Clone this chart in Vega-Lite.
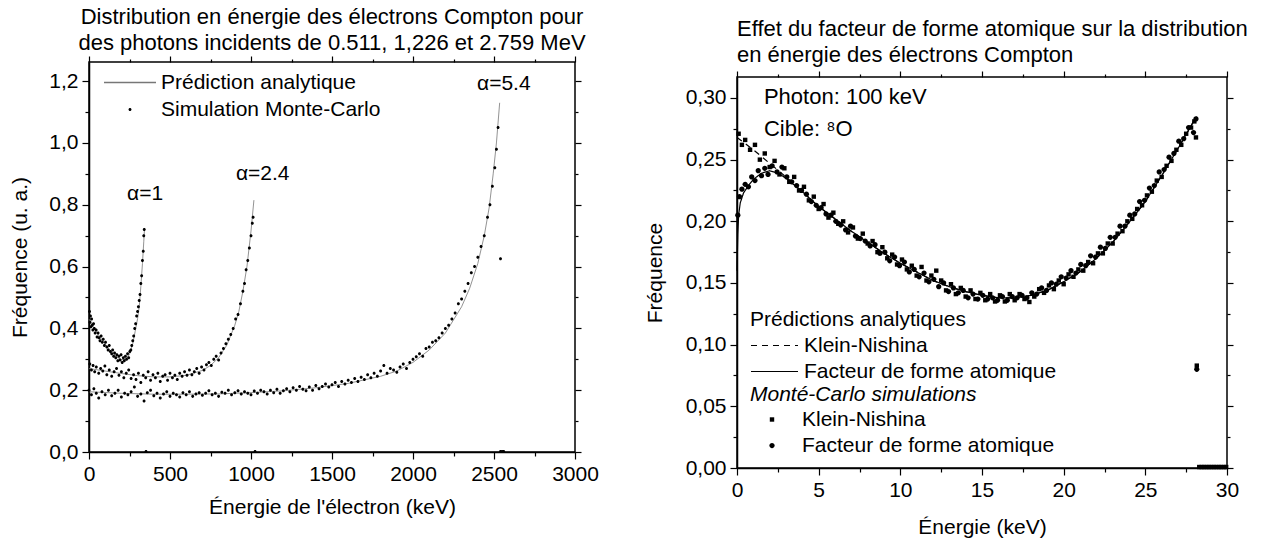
{
"$schema": "https://vega.github.io/schema/vega-lite/v6.json",
"background": "white",
"padding": {"left": 9, "top": 4, "right": 0, "bottom": 0},
"spacing": 43,
"resolve": {"scale": {"shape": "independent", "color": "independent", "strokeDash": "independent"}, "legend": {"shape": "independent", "color": "independent", "strokeDash": "independent"}},
"config": {
  "font": "Liberation Sans",
  "view": {"stroke": "black", "strokeWidth": 1.5},
  "axis": {"labelFont": "Liberation Sans", "labelFontSize": 21, "labelColor": "black", "titleFont": "Liberation Sans", "titleFontSize": 21, "titleFontWeight": "normal", "titleColor": "black", "domainColor": "black", "domainWidth": 1.5, "tickColor": "black", "tickWidth": 1.2, "grid": false, "labelFlush": false, "labelOverlap": false, "labelPadding": 4},
  "legend": {"labelFont": "Liberation Sans", "labelFontSize": 21, "labelColor": "black", "titleFont": "Liberation Sans", "titleFontSize": 21, "titleFontWeight": "normal", "titleColor": "black", "padding": 0, "labelLimit": 500, "titleLimit": 500},
  "title": {"font": "Liberation Sans", "fontSize": 22, "fontWeight": "normal", "color": "black", "lineHeight": 26}
},
"datasets": {
  "spacer": [{"t": ""}],
  "left_lines": [
    {"a":"1","e":0,"f":0.43},{"a":"1","e":25,"f":0.405},{"a":"1","e":50,"f":0.385},{"a":"1","e":75,"f":0.366},{"a":"1","e":100,"f":0.349},{"a":"1","e":125,"f":0.333},{"a":"1","e":150,"f":0.318},{"a":"1","e":175,"f":0.306},{"a":"1","e":200,"f":0.299},{"a":"1","e":225,"f":0.299},{"a":"1","e":250,"f":0.316},{"a":"1","e":270,"f":0.35},{"a":"1","e":285,"f":0.39},{"a":"1","e":300,"f":0.432},{"a":"1","e":310,"f":0.47},{"a":"1","e":320,"f":0.535},{"a":"1","e":330,"f":0.61},{"a":"1","e":338,"f":0.68},{"a":"1","e":343,"f":0.725},
    {"a":"2.4","e":0,"f":0.27},{"a":"2.4","e":100,"f":0.262},{"a":"2.4","e":200,"f":0.254},{"a":"2.4","e":300,"f":0.247},{"a":"2.4","e":400,"f":0.243},{"a":"2.4","e":500,"f":0.243},{"a":"2.4","e":600,"f":0.248},{"a":"2.4","e":700,"f":0.264},{"a":"2.4","e":750,"f":0.28},{"a":"2.4","e":800,"f":0.305},{"a":"2.4","e":850,"f":0.345},{"a":"2.4","e":900,"f":0.41},{"a":"2.4","e":925,"f":0.455},{"a":"2.4","e":950,"f":0.52},{"a":"2.4","e":975,"f":0.6},{"a":"2.4","e":1000,"f":0.715},{"a":"2.4","e":1018,"f":0.815},
    {"a":"5.4","e":0,"f":0.195},{"a":"5.4","e":200,"f":0.19},{"a":"5.4","e":400,"f":0.187},{"a":"5.4","e":600,"f":0.187},{"a":"5.4","e":800,"f":0.188},{"a":"5.4","e":1000,"f":0.192},{"a":"5.4","e":1200,"f":0.198},{"a":"5.4","e":1400,"f":0.208},{"a":"5.4","e":1600,"f":0.222},{"a":"5.4","e":1800,"f":0.245},{"a":"5.4","e":1900,"f":0.262},{"a":"5.4","e":2000,"f":0.29},{"a":"5.4","e":2100,"f":0.33},{"a":"5.4","e":2200,"f":0.385},{"a":"5.4","e":2300,"f":0.47},{"a":"5.4","e":2350,"f":0.53},{"a":"5.4","e":2400,"f":0.61},{"a":"5.4","e":2440,"f":0.7},{"a":"5.4","e":2470,"f":0.79},{"a":"5.4","e":2495,"f":0.9},{"a":"5.4","e":2515,"f":1.0},{"a":"5.4","e":2535,"f":1.13}
  ],
  "left_pts": [
    {"e":3,"f":0.455},{"e":6,"f":0.42},{"e":9,"f":0.44},{"e":12,"f":0.405},{"e":16,"f":0.43},{"e":20,"f":0.41},{"e":24,"f":0.395},{"e":28,"f":0.415},{"e":33,"f":0.4},{"e":38,"f":0.385},{"e":44,"f":0.395},{"e":50,"f":0.372},{"e":56,"f":0.385},{"e":62,"f":0.37},{"e":68,"f":0.36},{"e":75,"f":0.375},{"e":82,"f":0.355},{"e":88,"f":0.365},{"e":95,"f":0.345},{"e":102,"f":0.355},{"e":110,"f":0.34},{"e":118,"f":0.33},{"e":125,"f":0.345},{"e":132,"f":0.325},{"e":140,"f":0.318},{"e":146,"f":0.33},{"e":152,"f":0.31},{"e":158,"f":0.32},{"e":165,"f":0.305},{"e":172,"f":0.315},{"e":178,"f":0.295},{"e":185,"f":0.31},{"e":192,"f":0.298},{"e":198,"f":0.315},{"e":205,"f":0.29},{"e":212,"f":0.305},{"e":218,"f":0.295},{"e":225,"f":0.31},{"e":232,"f":0.3},{"e":238,"f":0.318},{"e":245,"f":0.305},{"e":252,"f":0.325},{"e":258,"f":0.33},{"e":264,"f":0.345},{"e":270,"f":0.36},{"e":276,"f":0.375},{"e":282,"f":0.4},{"e":288,"f":0.415},{"e":294,"f":0.44},{"e":300,"f":0.455},{"e":305,"f":0.47},{"e":310,"f":0.49},{"e":315,"f":0.51},{"e":320,"f":0.545},{"e":325,"f":0.57},{"e":330,"f":0.62},{"e":335,"f":0.65},{"e":338,"f":0.7},{"e":341,"f":0.72},{"e":352,"f":0.002},
    {"e":5,"f":0.285},{"e":15,"f":0.265},{"e":25,"f":0.28},{"e":35,"f":0.26},{"e":45,"f":0.275},{"e":60,"f":0.255},{"e":72,"f":0.27},{"e":85,"f":0.262},{"e":98,"f":0.278},{"e":110,"f":0.25},{"e":125,"f":0.265},{"e":140,"f":0.245},{"e":155,"f":0.26},{"e":170,"f":0.27},{"e":185,"f":0.248},{"e":200,"f":0.26},{"e":215,"f":0.24},{"e":230,"f":0.255},{"e":245,"f":0.265},{"e":260,"f":0.238},{"e":275,"f":0.25},{"e":290,"f":0.235},{"e":305,"f":0.255},{"e":320,"f":0.225},{"e":335,"f":0.248},{"e":350,"f":0.24},{"e":365,"f":0.26},{"e":380,"f":0.232},{"e":395,"f":0.25},{"e":410,"f":0.24},{"e":425,"f":0.255},{"e":440,"f":0.228},{"e":455,"f":0.245},{"e":470,"f":0.25},{"e":485,"f":0.232},{"e":500,"f":0.255},{"e":515,"f":0.24},{"e":530,"f":0.248},{"e":545,"f":0.235},{"e":560,"f":0.255},{"e":575,"f":0.245},{"e":590,"f":0.26},{"e":605,"f":0.248},{"e":620,"f":0.265},{"e":635,"f":0.25},{"e":650,"f":0.26},{"e":665,"f":0.27},{"e":680,"f":0.255},{"e":695,"f":0.275},{"e":710,"f":0.265},{"e":725,"f":0.282},{"e":740,"f":0.29},{"e":755,"f":0.28},{"e":770,"f":0.3},{"e":785,"f":0.31},{"e":800,"f":0.298},{"e":815,"f":0.32},{"e":830,"f":0.335},{"e":845,"f":0.35},{"e":860,"f":0.365},{"e":875,"f":0.38},{"e":890,"f":0.4},{"e":905,"f":0.43},{"e":920,"f":0.445},{"e":935,"f":0.48},{"e":950,"f":0.52},{"e":960,"f":0.545},{"e":970,"f":0.59},{"e":980,"f":0.62},{"e":990,"f":0.66},{"e":1000,"f":0.7},{"e":1008,"f":0.74},{"e":1013,"f":0.76},{"e":1025,"f":0.002},
    {"e":0,"f":0.2},{"e":15,"f":0.185},{"e":30,"f":0.205},{"e":45,"f":0.19},{"e":60,"f":0.175},{"e":80,"f":0.195},{"e":100,"f":0.185},{"e":120,"f":0.2},{"e":140,"f":0.182},{"e":160,"f":0.19},{"e":180,"f":0.2},{"e":200,"f":0.178},{"e":220,"f":0.19},{"e":240,"f":0.185},{"e":260,"f":0.195},{"e":280,"f":0.21},{"e":300,"f":0.18},{"e":320,"f":0.188},{"e":340,"f":0.165},{"e":360,"f":0.192},{"e":380,"f":0.2},{"e":400,"f":0.182},{"e":420,"f":0.19},{"e":440,"f":0.175},{"e":460,"f":0.188},{"e":480,"f":0.195},{"e":500,"f":0.18},{"e":520,"f":0.19},{"e":540,"f":0.185},{"e":560,"f":0.178},{"e":580,"f":0.192},{"e":600,"f":0.185},{"e":620,"f":0.195},{"e":640,"f":0.18},{"e":660,"f":0.188},{"e":680,"f":0.192},{"e":700,"f":0.184},{"e":720,"f":0.19},{"e":740,"f":0.198},{"e":760,"f":0.185},{"e":780,"f":0.19},{"e":800,"f":0.18},{"e":820,"f":0.193},{"e":840,"f":0.19},{"e":860,"f":0.2},{"e":880,"f":0.185},{"e":900,"f":0.192},{"e":920,"f":0.198},{"e":940,"f":0.188},{"e":960,"f":0.195},{"e":980,"f":0.19},{"e":1000,"f":0.185},{"e":1020,"f":0.197},{"e":1040,"f":0.19},{"e":1060,"f":0.2},{"e":1080,"f":0.195},{"e":1100,"f":0.188},{"e":1120,"f":0.2},{"e":1140,"f":0.192},{"e":1160,"f":0.203},{"e":1180,"f":0.19},{"e":1200,"f":0.198},{"e":1220,"f":0.205},{"e":1240,"f":0.195},{"e":1260,"f":0.208},{"e":1280,"f":0.2},{"e":1300,"f":0.212},{"e":1320,"f":0.203},{"e":1340,"f":0.198},{"e":1360,"f":0.21},{"e":1380,"f":0.2},{"e":1400,"f":0.215},{"e":1420,"f":0.205},{"e":1440,"f":0.212},{"e":1460,"f":0.22},{"e":1480,"f":0.21},{"e":1500,"f":0.218},{"e":1520,"f":0.225},{"e":1540,"f":0.212},{"e":1560,"f":0.228},{"e":1580,"f":0.22},{"e":1600,"f":0.232},{"e":1620,"f":0.225},{"e":1640,"f":0.238},{"e":1660,"f":0.228},{"e":1680,"f":0.242},{"e":1700,"f":0.235},{"e":1720,"f":0.25},{"e":1740,"f":0.24},{"e":1760,"f":0.255},{"e":1780,"f":0.245},{"e":1800,"f":0.262},{"e":1820,"f":0.28},{"e":1840,"f":0.255},{"e":1860,"f":0.27},{"e":1880,"f":0.265},{"e":1900,"f":0.258},{"e":1920,"f":0.275},{"e":1940,"f":0.285},{"e":1960,"f":0.27},{"e":1980,"f":0.29},{"e":2000,"f":0.3},{"e":2020,"f":0.308},{"e":2040,"f":0.318},{"e":2060,"f":0.31},{"e":2080,"f":0.335},{"e":2100,"f":0.34},{"e":2120,"f":0.355},{"e":2140,"f":0.36},{"e":2160,"f":0.37},{"e":2180,"f":0.385},{"e":2200,"f":0.4},{"e":2220,"f":0.41},{"e":2240,"f":0.43},{"e":2260,"f":0.45},{"e":2280,"f":0.48},{"e":2300,"f":0.495},{"e":2320,"f":0.52},{"e":2340,"f":0.545},{"e":2360,"f":0.58},{"e":2380,"f":0.6},{"e":2400,"f":0.63},{"e":2420,"f":0.665},{"e":2440,"f":0.7},{"e":2460,"f":0.76},{"e":2475,"f":0.8},{"e":2490,"f":0.86},{"e":2505,"f":0.92},{"e":2515,"f":0.98},{"e":2525,"f":1.05},{"e":2540,"f":0.625},{"e":2540,"f":0.002},{"e":2550,"f":0.002},{"e":2560,"f":0.002}
  ],
  "left_text": [
    {"e":235,"f":0.835,"t":"α=1"},
    {"e":907,"f":0.9,"t":"α=2.4"},
    {"e":2395,"f":1.191,"t":"α=5.4"}
  ],
  "right_lines": [
    {"an":"K","e":0,"f":0.268},{"an":"K","e":1,"f":0.258},{"an":"K","e":2,"f":0.247},{"an":"K","e":3,"f":0.236},{"an":"K","e":4,"f":0.224},{"an":"K","e":5,"f":0.212},{"an":"K","e":6,"f":0.202},{"an":"K","e":7,"f":0.192},{"an":"K","e":8,"f":0.183},{"an":"K","e":9,"f":0.174},{"an":"K","e":10,"f":0.166},{"an":"K","e":11,"f":0.159},{"an":"K","e":12,"f":0.152},{"an":"K","e":13,"f":0.147},{"an":"K","e":14,"f":0.143},{"an":"K","e":15,"f":0.14},{"an":"K","e":16,"f":0.138},{"an":"K","e":17,"f":0.138},{"an":"K","e":18,"f":0.14},{"an":"K","e":19,"f":0.144},{"an":"K","e":20,"f":0.151},{"an":"K","e":21,"f":0.159},{"an":"K","e":22,"f":0.17},{"an":"K","e":23,"f":0.183},{"an":"K","e":24,"f":0.199},{"an":"K","e":25,"f":0.216},{"an":"K","e":26,"f":0.237},{"an":"K","e":27,"f":0.259},{"an":"K","e":28,"f":0.282},{"an":"K","e":28.15,"f":0.285},
    {"an":"F","e":0,"f":0.16},{"an":"F","e":0.05,"f":0.19},{"an":"F","e":0.1,"f":0.205},{"an":"F","e":0.2,"f":0.215},{"an":"F","e":0.4,"f":0.223},{"an":"F","e":0.7,"f":0.229},{"an":"F","e":1,"f":0.234},{"an":"F","e":1.5,"f":0.239},{"an":"F","e":2,"f":0.241},{"an":"F","e":2.5,"f":0.239},{"an":"F","e":3,"f":0.235},{"an":"F","e":4,"f":0.224},{"an":"F","e":5,"f":0.212},{"an":"F","e":6,"f":0.202},{"an":"F","e":7,"f":0.192},{"an":"F","e":8,"f":0.183},{"an":"F","e":9,"f":0.174},{"an":"F","e":10,"f":0.166},{"an":"F","e":11,"f":0.159},{"an":"F","e":12,"f":0.152},{"an":"F","e":13,"f":0.147},{"an":"F","e":14,"f":0.143},{"an":"F","e":15,"f":0.14},{"an":"F","e":16,"f":0.138},{"an":"F","e":17,"f":0.138},{"an":"F","e":18,"f":0.14},{"an":"F","e":19,"f":0.144},{"an":"F","e":20,"f":0.151},{"an":"F","e":21,"f":0.159},{"an":"F","e":22,"f":0.17},{"an":"F","e":23,"f":0.183},{"an":"F","e":24,"f":0.199},{"an":"F","e":25,"f":0.216},{"an":"F","e":26,"f":0.237},{"an":"F","e":27,"f":0.259},{"an":"F","e":28,"f":0.282}
  ],
  "right_pts": [
    {"mc":"KN","e":0.1,"f":0.271},{"mc":"KN","e":0.3,"f":0.262},{"mc":"KN","e":0.5,"f":0.266},{"mc":"KN","e":0.8,"f":0.258},{"mc":"KN","e":1.1,"f":0.262},{"mc":"KN","e":1.4,"f":0.25},{"mc":"KN","e":1.7,"f":0.255},{"mc":"KN","e":2.0,"f":0.244},{"mc":"KN","e":2.3,"f":0.249},{"mc":"KN","e":2.6,"f":0.238},{"mc":"KN","e":2.9,"f":0.243},{"mc":"KN","e":3.2,"f":0.232},{"mc":"KN","e":3.5,"f":0.236},{"mc":"KN","e":3.8,"f":0.225},{"mc":"KN","e":4.1,"f":0.228},{"mc":"KN","e":4.4,"f":0.217},{"mc":"KN","e":4.7,"f":0.22},{"mc":"KN","e":5.0,"f":0.21},{"mc":"KN","e":5.3,"f":0.214},{"mc":"KN","e":5.6,"f":0.203},{"mc":"KN","e":5.9,"f":0.207},{"mc":"KN","e":6.2,"f":0.198},{"mc":"KN","e":6.5,"f":0.2},{"mc":"KN","e":6.8,"f":0.191},{"mc":"KN","e":7.1,"f":0.195},{"mc":"KN","e":7.4,"f":0.186},{"mc":"KN","e":7.7,"f":0.19},{"mc":"KN","e":8.0,"f":0.182},{"mc":"KN","e":8.3,"f":0.184},{"mc":"KN","e":8.6,"f":0.175},{"mc":"KN","e":8.9,"f":0.179},{"mc":"KN","e":9.2,"f":0.17},{"mc":"KN","e":9.5,"f":0.173},{"mc":"KN","e":9.8,"f":0.165},{"mc":"KN","e":10.1,"f":0.169},{"mc":"KN","e":10.4,"f":0.161},{"mc":"KN","e":10.7,"f":0.164},{"mc":"KN","e":11.0,"f":0.156},{"mc":"KN","e":11.3,"f":0.163},{"mc":"KN","e":11.6,"f":0.152},{"mc":"KN","e":11.9,"f":0.156},{"mc":"KN","e":12.2,"f":0.16},{"mc":"KN","e":12.5,"f":0.152},{"mc":"KN","e":12.8,"f":0.144},{"mc":"KN","e":13.1,"f":0.149},{"mc":"KN","e":13.4,"f":0.141},{"mc":"KN","e":13.7,"f":0.146},{"mc":"KN","e":14.0,"f":0.139},{"mc":"KN","e":14.3,"f":0.144},{"mc":"KN","e":14.6,"f":0.137},{"mc":"KN","e":14.9,"f":0.142},{"mc":"KN","e":15.2,"f":0.136},{"mc":"KN","e":15.5,"f":0.141},{"mc":"KN","e":15.8,"f":0.135},{"mc":"KN","e":16.1,"f":0.14},{"mc":"KN","e":16.4,"f":0.135},{"mc":"KN","e":16.7,"f":0.141},{"mc":"KN","e":17.0,"f":0.136},{"mc":"KN","e":17.3,"f":0.141},{"mc":"KN","e":17.6,"f":0.137},{"mc":"KN","e":17.9,"f":0.1346},{"mc":"KN","e":18.2,"f":0.139},{"mc":"KN","e":18.5,"f":0.145},{"mc":"KN","e":18.8,"f":0.142},{"mc":"KN","e":19.1,"f":0.148},{"mc":"KN","e":19.4,"f":0.145},{"mc":"KN","e":19.7,"f":0.152},{"mc":"KN","e":20.0,"f":0.149},{"mc":"KN","e":20.3,"f":0.157},{"mc":"KN","e":20.6,"f":0.155},{"mc":"KN","e":20.9,"f":0.161},{"mc":"KN","e":21.2,"f":0.16},{"mc":"KN","e":21.5,"f":0.167},{"mc":"KN","e":21.8,"f":0.166},{"mc":"KN","e":22.1,"f":0.174},{"mc":"KN","e":22.4,"f":0.174},{"mc":"KN","e":22.7,"f":0.182},{"mc":"KN","e":23.0,"f":0.182},{"mc":"KN","e":23.3,"f":0.19},{"mc":"KN","e":23.6,"f":0.192},{"mc":"KN","e":23.9,"f":0.2},{"mc":"KN","e":24.2,"f":0.202},{"mc":"KN","e":24.5,"f":0.21},{"mc":"KN","e":24.8,"f":0.213},{"mc":"KN","e":25.1,"f":0.221},{"mc":"KN","e":25.4,"f":0.224},{"mc":"KN","e":25.7,"f":0.233},{"mc":"KN","e":26.0,"f":0.236},{"mc":"KN","e":26.3,"f":0.245},{"mc":"KN","e":26.6,"f":0.249},{"mc":"KN","e":26.9,"f":0.258},{"mc":"KN","e":27.2,"f":0.262},{"mc":"KN","e":27.5,"f":0.271},{"mc":"KN","e":27.8,"f":0.276},{"mc":"KN","e":28.0,"f":0.281},{"mc":"KN","e":28.1,"f":0.268},{"mc":"KN","e":28.15,"f":0.083},
    {"mc":"KN","e":28.3,"f":0.0008},{"mc":"KN","e":28.45,"f":0.0008},{"mc":"KN","e":28.6,"f":0.0008},{"mc":"KN","e":28.75,"f":0.0008},{"mc":"KN","e":28.9,"f":0.0008},{"mc":"KN","e":29.05,"f":0.0008},{"mc":"KN","e":29.2,"f":0.0008},{"mc":"KN","e":29.35,"f":0.0008},{"mc":"KN","e":29.5,"f":0.0008},{"mc":"KN","e":29.65,"f":0.0008},{"mc":"KN","e":29.8,"f":0.0008},{"mc":"KN","e":29.95,"f":0.0008},
    {"mc":"FF","e":0.05,"f":0.205},{"mc":"FF","e":0.15,"f":0.22},{"mc":"FF","e":0.3,"f":0.226},{"mc":"FF","e":0.5,"f":0.23},{"mc":"FF","e":0.7,"f":0.228},{"mc":"FF","e":0.9,"f":0.236},{"mc":"FF","e":1.1,"f":0.233},{"mc":"FF","e":1.3,"f":0.241},{"mc":"FF","e":1.5,"f":0.237},{"mc":"FF","e":1.7,"f":0.243},{"mc":"FF","e":1.9,"f":0.238},{"mc":"FF","e":2.15,"f":0.245},{"mc":"FF","e":2.45,"f":0.24},{"mc":"FF","e":2.75,"f":0.244},{"mc":"FF","e":3.05,"f":0.236},{"mc":"FF","e":3.35,"f":0.232},{"mc":"FF","e":3.65,"f":0.229},{"mc":"FF","e":3.95,"f":0.225},{"mc":"FF","e":4.25,"f":0.222},{"mc":"FF","e":4.55,"f":0.216},{"mc":"FF","e":4.85,"f":0.213},{"mc":"FF","e":5.15,"f":0.211},{"mc":"FF","e":5.45,"f":0.206},{"mc":"FF","e":5.75,"f":0.205},{"mc":"FF","e":6.05,"f":0.2},{"mc":"FF","e":6.35,"f":0.197},{"mc":"FF","e":6.65,"f":0.193},{"mc":"FF","e":6.95,"f":0.196},{"mc":"FF","e":7.25,"f":0.188},{"mc":"FF","e":7.55,"f":0.186},{"mc":"FF","e":7.85,"f":0.184},{"mc":"FF","e":8.15,"f":0.18},{"mc":"FF","e":8.45,"f":0.181},{"mc":"FF","e":8.75,"f":0.174},{"mc":"FF","e":9.05,"f":0.175},{"mc":"FF","e":9.35,"f":0.168},{"mc":"FF","e":9.65,"f":0.171},{"mc":"FF","e":9.95,"f":0.164},{"mc":"FF","e":10.25,"f":0.167},{"mc":"FF","e":10.55,"f":0.159},{"mc":"FF","e":10.85,"f":0.161},{"mc":"FF","e":11.15,"f":0.155},{"mc":"FF","e":11.45,"f":0.158},{"mc":"FF","e":11.75,"f":0.151},{"mc":"FF","e":12.05,"f":0.153},{"mc":"FF","e":12.35,"f":0.147},{"mc":"FF","e":12.65,"f":0.15},{"mc":"FF","e":12.95,"f":0.143},{"mc":"FF","e":13.25,"f":0.146},{"mc":"FF","e":13.55,"f":0.142},{"mc":"FF","e":13.85,"f":0.144},{"mc":"FF","e":14.15,"f":0.138},{"mc":"FF","e":14.45,"f":0.141},{"mc":"FF","e":14.75,"f":0.137},{"mc":"FF","e":15.05,"f":0.14},{"mc":"FF","e":15.35,"f":0.137},{"mc":"FF","e":15.65,"f":0.138},{"mc":"FF","e":15.95,"f":0.136},{"mc":"FF","e":16.25,"f":0.139},{"mc":"FF","e":16.55,"f":0.136},{"mc":"FF","e":16.85,"f":0.139},{"mc":"FF","e":17.15,"f":0.138},{"mc":"FF","e":17.45,"f":0.14},{"mc":"FF","e":17.75,"f":0.138},{"mc":"FF","e":18.05,"f":0.142},{"mc":"FF","e":18.35,"f":0.141},{"mc":"FF","e":18.65,"f":0.146},{"mc":"FF","e":18.95,"f":0.144},{"mc":"FF","e":19.25,"f":0.15},{"mc":"FF","e":19.55,"f":0.149},{"mc":"FF","e":19.85,"f":0.155},{"mc":"FF","e":20.15,"f":0.154},{"mc":"FF","e":20.45,"f":0.16},{"mc":"FF","e":20.75,"f":0.158},{"mc":"FF","e":21.05,"f":0.165},{"mc":"FF","e":21.35,"f":0.164},{"mc":"FF","e":21.65,"f":0.172},{"mc":"FF","e":21.95,"f":0.171},{"mc":"FF","e":22.25,"f":0.179},{"mc":"FF","e":22.55,"f":0.178},{"mc":"FF","e":22.85,"f":0.187},{"mc":"FF","e":23.15,"f":0.187},{"mc":"FF","e":23.45,"f":0.196},{"mc":"FF","e":23.75,"f":0.196},{"mc":"FF","e":24.05,"f":0.205},{"mc":"FF","e":24.35,"f":0.206},{"mc":"FF","e":24.65,"f":0.216},{"mc":"FF","e":24.95,"f":0.217},{"mc":"FF","e":25.25,"f":0.227},{"mc":"FF","e":25.55,"f":0.229},{"mc":"FF","e":25.85,"f":0.24},{"mc":"FF","e":26.15,"f":0.242},{"mc":"FF","e":26.45,"f":0.252},{"mc":"FF","e":26.75,"f":0.255},{"mc":"FF","e":27.05,"f":0.265},{"mc":"FF","e":27.35,"f":0.267},{"mc":"FF","e":27.65,"f":0.276},{"mc":"FF","e":27.95,"f":0.272},{"mc":"FF","e":28.1,"f":0.283},{"mc":"FF","e":28.15,"f":0.08}
  ],
  "right_text": [
    {"e":1.65,"f":0.301,"t":"Photon: 100 keV"},
    {"e":1.65,"f":0.275,"t":"Cible: ⁸O"}
  ]
},
"hconcat": [
  {
    "spacing": 0,
    "resolve": {"scale": {"shape": "independent", "color": "independent"}, "legend": {"shape": "independent", "color": "independent"}},
    "vconcat": [
      {
        "width": 1, "height": 1,
        "data": {"name": "spacer"},
        "mark": {"type": "text", "fontSize": 0},
        "encoding": {"text": {"field": "t"}},
        "view": {"stroke": null}
      },
      {
        "width": 486, "height": 390,
        "title": {"text": ["Distribution en énergie des électrons Compton pour", "des photons incidents de 0.511, 1,226 et 2.759 MeV"], "anchor": "middle", "offset": 0},
        "layer": [
          {
            "data": {"name": "left_lines"},
            "mark": {"type": "line", "color": "#777777", "strokeWidth": 0.8},
            "encoding": {
              "x": {"field": "e", "type": "quantitative", "scale": {"domain": [0, 3000], "nice": false, "zero": false},
                    "axis": {"orient": "bottom", "title": "Énergie de l'électron (keV)", "titlePadding": 12, "values": [0,250,500,750,1000,1250,1500,1750,2000,2250,2500,2750,3000], "format": "d", "labelExpr": "datum.value % 500 === 0 ? datum.label : ''", "tickSize": {"condition": {"test": "datum.value % 500 === 0", "value": 7}, "value": 4}}},
              "y": {"field": "f", "type": "quantitative", "scale": {"domain": [0, 1.262], "nice": false, "zero": false},
                    "axis": {"orient": "left", "title": "Fréquence (u. a.)", "titlePadding": 18, "values": [0,0.1,0.2,0.3,0.4,0.5,0.6,0.7,0.8,0.9,1,1.1,1.2], "labelExpr": "round(datum.value*10) % 2 === 0 ? replace(format(datum.value, '.1f'), '.', ',') : ''", "tickSize": {"condition": {"test": "round(datum.value*10) % 2 === 0", "value": 7}, "value": 4}}},
              "detail": {"field": "a", "type": "nominal"}
            }
          },
          {
            "data": {"name": "left_text"},
            "mark": {"type": "text", "align": "left", "baseline": "middle", "font": "Liberation Sans", "fontSize": 21, "color": "black"},
            "encoding": {
              "x": {"field": "e", "type": "quantitative", "axis": null},
              "y": {"field": "f", "type": "quantitative", "axis": null},
              "text": {"field": "t"}
            }
          },
          {
            "data": {"name": "left_pts"},
            "mark": {"type": "point", "filled": true, "size": 441, "opacity": 1},
            "encoding": {
              "x": {"field": "e", "type": "quantitative",
                    "axis": {"orient": "top", "labels": false, "title": null, "domain": false, "values": [0,250,500,750,1000,1250,1500,1750,2000,2250,2500,2750,3000], "tickSize": {"condition": {"test": "datum.value % 500 === 0", "value": 6}, "value": 3}}},
              "y": {"field": "f", "type": "quantitative",
                    "axis": {"orient": "right", "labels": false, "title": null, "domain": false, "values": [0,0.1,0.2,0.3,0.4,0.5,0.6,0.7,0.8,0.9,1,1.1,1.2], "tickSize": {"condition": {"test": "round(datum.value*10) % 2 === 0", "value": 6}, "value": 3}}},
              "shape": {"datum": "S", "type": "nominal",
                        "scale": {"domain": ["P", "S"], "range": ["M-2.476,-0.07H2.476V0.07H-2.476Z", "M-0.143,0A0.143,0.143,0,1,1,0.143,0A0.143,0.143,0,1,1,-0.143,0Z"]},
                        "legend": {"title": null, "orient": "none", "legendX": 15, "legendY": 10, "symbolSize": 441, "symbolOffset": 15.5, "labelOffset": 20.5, "rowPadding": 5, "symbolStrokeWidth": 0, "labelExpr": "datum.label === 'P' ? 'Prédiction analytique' : 'Simulation Monte-Carlo'"}},
              "color": {"datum": "S", "type": "nominal",
                        "scale": {"domain": ["P", "S"], "range": ["#777777", "black"]},
                        "legend": {"title": null, "orient": "none", "legendX": 15, "legendY": 10, "symbolSize": 441, "symbolOffset": 15.5, "labelOffset": 20.5, "rowPadding": 5, "symbolStrokeWidth": 0, "labelExpr": "datum.label === 'P' ? 'Prédiction analytique' : 'Simulation Monte-Carlo'"}}
            }
          }
        ],
        "resolve": {"axis": {"x": "independent", "y": "independent"}}
      }
    ]
  },
  {
    "spacing": 0,
    "resolve": {"scale": {"shape": "independent", "strokeDash": "independent"}, "legend": {"shape": "independent", "strokeDash": "independent"}},
    "vconcat": [
      {
        "width": 1, "height": 1,
        "data": {"name": "spacer"},
        "mark": {"type": "text", "fontSize": 0},
        "encoding": {"text": {"field": "t"}},
        "view": {"stroke": null}
      },
      {
        "width": 490, "height": 391,
        "title": {"text": " ", "fontSize": 10, "subtitle": ["Effet du facteur de forme atomique sur la distribution", "en énergie des électrons Compton"], "subtitleFont": "Liberation Sans", "subtitleFontSize": 22, "subtitleColor": "black", "subtitleLineHeight": 26, "subtitlePadding": 3, "anchor": "start", "frame": "group", "offset": 4},
        "layer": [
          {
            "data": {"name": "right_lines"},
            "mark": {"type": "line", "color": "black", "strokeWidth": 1.2},
            "encoding": {
              "x": {"field": "e", "type": "quantitative", "scale": {"domain": [0, 30], "nice": false, "zero": false},
                    "axis": {"orient": "bottom", "title": "Énergie (keV)", "titlePadding": 16, "values": [0,2.5,5,7.5,10,12.5,15,17.5,20,22.5,25,27.5,30], "labelExpr": "datum.value % 5 === 0 ? format(datum.value, 'd') : ''", "tickSize": {"condition": {"test": "datum.value % 5 === 0", "value": 7}, "value": 4}}},
              "y": {"field": "f", "type": "quantitative", "scale": {"domain": [0, 0.317], "nice": false, "zero": false},
                    "axis": {"orient": "left", "title": "Fréquence", "titlePadding": 20, "values": [0,0.025,0.05,0.075,0.1,0.125,0.15,0.175,0.2,0.225,0.25,0.275,0.3], "labelExpr": "round(datum.value*1000) % 50 === 0 ? replace(format(datum.value, '.2f'), '.', ',') : ''", "tickSize": {"condition": {"test": "round(datum.value*1000) % 50 === 0", "value": 7}, "value": 4}}},
              "strokeDash": {"field": "an", "type": "nominal",
                             "scale": {"domain": ["K", "F"], "range": [[6, 5], [1, 0]]},
                             "legend": {"title": "Prédictions analytiques", "orient": "none", "legendX": 13, "legendY": 232, "symbolType": "M-2.238,0H2.238", "symbolSize": 441, "symbolOffset": 13, "symbolStrokeColor": "black", "symbolStrokeWidth": 1.2, "labelOffset": 18, "rowPadding": 4, "titlePadding": 4, "labelExpr": "datum.label === 'K' ? 'Klein-Nishina' : 'Facteur de forme atomique'"}}
            }
          },
          {
            "data": {"name": "right_text"},
            "mark": {"type": "text", "align": "left", "baseline": "middle", "font": "Liberation Sans", "fontSize": 22, "color": "black"},
            "encoding": {
              "x": {"field": "e", "type": "quantitative", "axis": null},
              "y": {"field": "f", "type": "quantitative", "axis": null},
              "text": {"field": "t"}
            }
          },
          {
            "data": {"name": "right_pts"},
            "mark": {"type": "point", "filled": true, "size": 441, "color": "black", "opacity": 1},
            "encoding": {
              "x": {"field": "e", "type": "quantitative",
                    "axis": {"orient": "top", "labels": false, "title": null, "domain": false, "values": [0,2.5,5,7.5,10,12.5,15,17.5,20,22.5,25,27.5,30], "tickSize": {"condition": {"test": "datum.value % 5 === 0", "value": 6}, "value": 3}}},
              "y": {"field": "f", "type": "quantitative",
                    "axis": {"orient": "right", "labels": false, "title": null, "domain": false, "values": [0,0.025,0.05,0.075,0.1,0.125,0.15,0.175,0.2,0.225,0.25,0.275,0.3], "tickSize": {"condition": {"test": "round(datum.value*1000) % 50 === 0", "value": 6}, "value": 3}}},
              "shape": {"field": "mc", "type": "nominal",
                        "scale": {"domain": ["KN", "FF"], "range": ["M-0.21,-0.21H0.21V0.21H-0.21Z", "M-0.25,0A0.25,0.25,0,1,1,0.25,0A0.25,0.25,0,1,1,-0.25,0Z"]},
                        "legend": {"title": "Monté-Carlo simulations", "titleFontStyle": "italic", "orient": "none", "legendX": 13, "legendY": 307, "symbolSize": 441, "symbolOffset": 11.5, "symbolFillColor": "black", "symbolStrokeWidth": 0, "labelOffset": 19.5, "rowPadding": 4, "titlePadding": 4, "labelExpr": "datum.label === 'KN' ? 'Klein-Nishina' : 'Facteur de forme atomique'"}}
            }
          }
        ],
        "resolve": {"axis": {"x": "independent", "y": "independent"}}
      }
    ]
  }
]
}
